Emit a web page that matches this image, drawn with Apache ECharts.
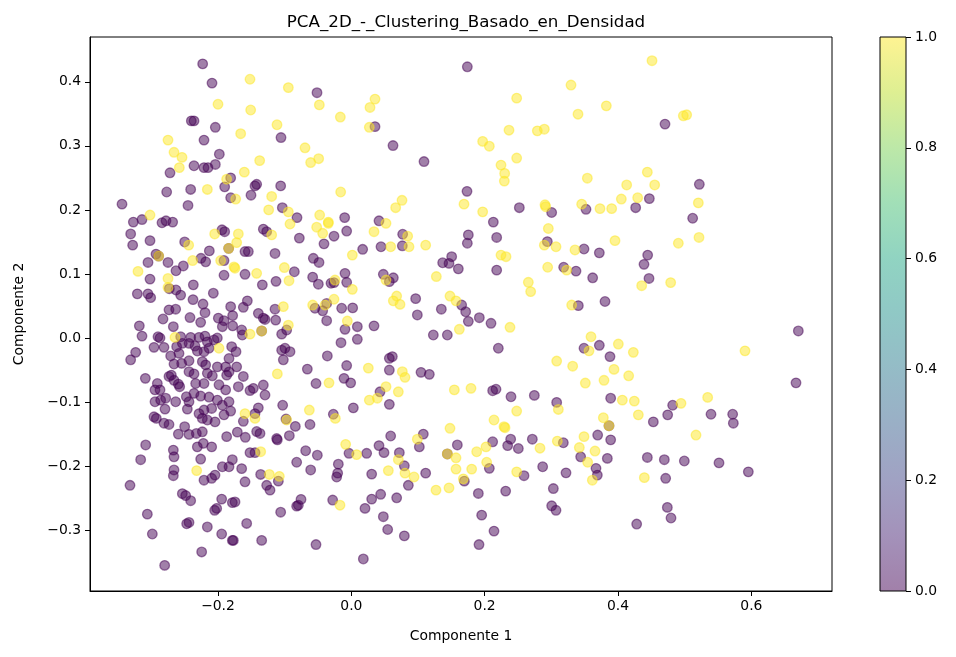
<!DOCTYPE html>
<html>
<head>
<meta charset="utf-8">
<title>PCA 2D - Clustering Basado en Densidad</title>
<script src="https://cdn.jsdelivr.net/npm/echarts@6.0.0/dist/echarts.min.js"></script>
<style>
    html, body { margin: 0; padding: 0; background: #fff; }
    #chart { width: 956px; height: 657px; }
</style>
</head>
<body>
<div id="chart"></div>
<script>
// puntos: [componente 1, componente 2]
var cluster0 = [
    [-0.223,0.428],[-0.209,0.398],[-0.240,0.339],[-0.236,0.339],[-0.204,0.329],[-0.221,0.309],[-0.198,0.287],[-0.236,0.269],
    [-0.221,0.266],[-0.215,0.266],[-0.204,0.271],[-0.272,0.258],[-0.181,0.25],[-0.19,0.236],[-0.241,0.232],[-0.277,0.228],
    [-0.181,0.219],[-0.344,0.209],[-0.245,0.207],[-0.327,0.181],[-0.314,0.185],[-0.284,0.18],[-0.278,0.183],[-0.268,0.181],
    [-0.331,0.1625],[-0.328,0.145],[-0.302,0.152],[-0.25,0.15],[-0.194,0.169],[-0.19,0.166],[-0.184,0.14],[-0.293,0.131],
    [-0.289,0.128],[-0.305,0.118],[-0.275,0.118],[-0.263,0.105],[-0.252,0.1125],[-0.2255,0.1245],[-0.2185,0.119],[-0.213,0.136],
    [-0.191,0.121],[-0.302,0.092],[-0.191,0.098],[-0.321,0.069],[-0.305,0.069],[-0.301,0.063],[-0.273,0.077],[-0.263,0.075],
    [-0.256,0.067],[-0.237,0.083],[-0.2375,0.060],[-0.2225,0.053],[-0.207,0.07],[-0.2735,0.044],[-0.2635,0.045],[-0.2195,0.0395],
    [-0.2825,0.0297],[-0.242,0.032],[-0.226,0.0245],[-0.1995,0.031],[-0.191,0.027],[-0.1935,0.0177],[-0.181,0.049],[-0.318,0.019],
    [-0.314,0.003],[-0.267,0.0177],[-0.29,0.002],[-0.287,0.0],[-0.256,0.002],[-0.241,0.001],[-0.2285,0.001],[-0.2195,0.003],
    [-0.206,-0.003],[-0.201,0.0],[-0.216,-0.006],[-0.296,-0.0146],[-0.281,-0.0146],[-0.262,-0.0136],[-0.2535,-0.0083],[-0.2435,-0.0083],
    [-0.2345,-0.0125],[-0.231,-0.0203],[-0.221,-0.0214],[-0.2135,-0.016],[-0.3235,-0.0224],[-0.331,-0.034],[-0.271,-0.028],[-0.2585,-0.024],
    [-0.266,-0.0406],[-0.2545,-0.0396],[-0.2435,-0.0355],[-0.2185,-0.042],[-0.2235,-0.037],[-0.201,-0.045],[-0.1885,-0.045],[-0.1835,-0.032],
    [-0.309,-0.063],[-0.291,-0.071],[-0.2945,-0.081],[-0.287,-0.081],[-0.2735,-0.06],[-0.27,-0.058],[-0.266,-0.066],[-0.2595,-0.072],
    [-0.2575,-0.076],[-0.2435,-0.0526],[-0.236,-0.056],[-0.2335,-0.071],[-0.221,-0.071],[-0.216,-0.055],[-0.2085,-0.059],[-0.1985,-0.073],
    [-0.1885,-0.081],[-0.187,-0.058],[-0.1835,-0.053],[-0.2945,-0.0995],[-0.286,-0.097],[-0.2785,-0.094],[-0.2635,-0.0995],[-0.2475,-0.0917],
    [-0.2435,-0.0995],[-0.236,-0.0865],[-0.226,-0.0906],[-0.2135,-0.0922],[-0.201,-0.097],[-0.1935,-0.105],[-0.1835,-0.0995],
    [-0.2795,-0.111],[-0.246,-0.111],[-0.221,-0.1125],[-0.2095,-0.11],[-0.181,-0.114],[-0.296,-0.123],[-0.2925,-0.1255],[-0.281,-0.133],
    [-0.2735,-0.135],[-0.25,-0.1385],[-0.2595,-0.15],[-0.2435,-0.1505],[-0.2325,-0.149],[-0.2235,-0.1464],[-0.2235,-0.1255],[-0.216,-0.128],
    [-0.2045,-0.131],[-0.191,-0.12],[-0.2285,-0.118],[-0.187,-0.154],[-0.3085,-0.167],[-0.267,-0.175],[-0.266,-0.1855],[-0.231,-0.17],
    [-0.222,-0.1645],[-0.2095,-0.17],[-0.226,-0.189],[-0.316,-0.19],[-0.266,-0.206],[-0.267,-0.215],[-0.221,-0.222],[-0.2095,-0.219],
    [-0.2045,-0.214],[-0.1935,-0.201],[-0.1835,-0.201],[-0.1785,-0.19],[-0.332,-0.23],[-0.2535,-0.243],[-0.2485,-0.246],[-0.241,-0.254],
    [-0.1945,-0.2515],[-0.202,-0.266],[-0.205,-0.269],[-0.1785,-0.257],[-0.306,-0.275],[-0.247,-0.29],[-0.2435,-0.288],[-0.216,-0.295],
    [-0.2985,-0.306],[-0.1945,-0.306],[-0.1785,-0.316],[-0.2245,-0.334],[-0.28,-0.355],
    [-0.0515,0.383],[-0.1055,0.313],[-0.1445,0.2375],[-0.142,0.24],[-0.106,0.2375],[-0.1505,0.223],[-0.1035,0.2035],[-0.0815,0.188],
    [-0.01,0.188],[0.0355,0.330],
    [-0.1595,0.135],[-0.1545,0.135],[-0.1595,0.0995],[-0.1335,0.083],[-0.132,0.17],[-0.127,0.166],[-0.078,0.156],[-0.1145,0.132],
    [-0.0855,0.1035],[-0.113,0.0885],[-0.026,0.159],[-0.007,0.167],[-0.041,0.147],[0.017,0.1385],[-0.057,0.1245],[-0.0485,0.118],
    [-0.058,0.095],[-0.0495,0.084],[-0.0305,0.0855],[-0.026,0.0865],[-0.0095,0.101],[-0.007,0.087],[-0.162,0.048],[-0.156,0.058],
    [-0.178,0.035],[-0.178,0.019],[-0.1645,0.0125],[-0.1635,0.0047],[-0.1395,0.0385],[-0.132,0.031],[-0.1295,0.029],[-0.1145,0.045],
    [-0.1135,0.028],[-0.1345,0.011],[-0.097,0.0125],[-0.1045,0.006],[-0.0545,0.0465],[-0.043,0.0425],[-0.037,0.054],[-0.037,0.027],
    [-0.0145,0.0465],[0.002,0.047],[-0.0095,0.0135],[0.009,0.0177],[0.034,0.019],[-0.0155,-0.0073],[0.009,-0.002],[-0.1045,-0.019],
    [-0.0995,-0.016],[-0.092,-0.0214],[-0.102,-0.034],[-0.173,-0.0214],[-0.1795,-0.0136],[-0.036,-0.028],[-0.066,-0.0485],[-0.007,-0.043],
    [-0.172,-0.045],[-0.162,-0.06],[-0.1695,-0.076],[-0.152,-0.082],[-0.147,-0.0786],[-0.132,-0.0734],[-0.1295,-0.089],[-0.053,-0.071],
    [-0.011,-0.063],[-0.001,-0.07],
    [-0.1445,-0.118],[-0.162,-0.13],[-0.1395,-0.109],[-0.103,-0.105],[-0.027,-0.119],[0.003,-0.109],[-0.098,-0.1265],[-0.084,-0.138],
    [-0.062,-0.135],[-0.171,-0.147],[-0.159,-0.155],[-0.142,-0.146],[-0.137,-0.149],[-0.112,-0.157],[-0.111,-0.159],[-0.093,-0.1525],
    [-0.152,-0.179],[-0.1445,-0.179],[-0.1645,-0.204],[-0.0685,-0.176],[-0.051,-0.183],[-0.082,-0.194],[-0.061,-0.206],[-0.0035,-0.18],
    [0.023,-0.18],[-0.0195,-0.197],[-0.0205,-0.211],[-0.022,-0.217],[0.0305,-0.2125],[-0.136,-0.213],[-0.1095,-0.2235],[-0.127,-0.23],
    [-0.122,-0.2375],[-0.1595,-0.2245],[-0.1745,-0.256],[-0.082,-0.2625],[-0.0795,-0.261],[-0.0755,-0.252],[-0.106,-0.272],[-0.028,-0.253],
    [0.0205,-0.266],[0.0305,-0.2515],[-0.157,-0.2895],[-0.177,-0.316],[-0.1345,-0.316],[-0.053,-0.3225],[0.018,-0.345],
    [0.174,0.4235],[0.0625,0.3005],[0.109,0.2755],[0.1735,0.229],[0.213,0.181],[0.252,0.2035],[0.0415,0.183],
    [0.0445,0.1425],[0.077,0.162],[0.0765,0.144],[0.1755,0.161],[0.174,0.148],[0.218,0.157],[0.137,0.1175],[0.1465,0.1165],
    [0.1505,0.127],[0.1605,0.108],[0.218,0.106],[0.048,0.0995],[0.063,0.094],[0.057,0.088],[0.0965,0.0615],[0.099,0.036],
    [0.135,0.045],[0.1655,0.0515],[0.1715,0.041],[0.1755,0.026],[0.192,0.0317],[0.2095,0.023],[0.123,0.0047],[0.144,0.0047],
    [0.2205,-0.016],[0.057,-0.0317],[0.0615,-0.029],[0.057,-0.05],[0.1045,-0.0536],[0.117,-0.0567],[0.043,-0.084],[0.057,-0.1036],
    [0.212,-0.0823],[0.217,-0.08],[0.2395,-0.0917],
    [0.059,-0.153],[0.0415,-0.168],[0.049,-0.179],[0.072,-0.179],[0.108,-0.15],[0.102,-0.17],[0.0795,-0.1995],[0.0855,-0.23],
    [0.1115,-0.211],[0.044,-0.244],[0.068,-0.2495],[0.048,-0.279],[0.0545,-0.299],[0.0795,-0.309],[0.159,-0.167],[0.144,-0.181],
    [0.1695,-0.2235],[0.207,-0.2035],[0.1905,-0.2427],[0.1955,-0.2766],[0.1915,-0.3225],[0.214,-0.3015],[0.2315,-0.239],[0.212,-0.162],
    [0.2345,-0.168],[0.239,-0.158],[0.2505,-0.1725],
    [0.4705,0.334],[0.447,0.2177],[0.522,0.24],[0.512,0.187],[0.3005,0.196],[0.352,0.201],[0.4265,0.2035],
    [0.294,0.1505],[0.349,0.139],[0.372,0.133],[0.4445,0.1295],[0.439,0.115],[0.4465,0.093],[0.3185,0.1105],[0.337,0.1045],
    [0.362,0.094],[0.3405,0.0505],[0.3805,0.057],[0.6705,0.011],[0.349,-0.016],[0.372,-0.0114],[0.388,-0.029],[0.667,-0.07],
    [0.2745,-0.0896],[0.308,-0.1005],[0.389,-0.094],[0.482,-0.105],
    [0.453,-0.131],[0.4745,-0.12],[0.5395,-0.119],[0.572,-0.119],[0.573,-0.133],[0.3865,-0.137],[0.3695,-0.1515],[0.389,-0.159],
    [0.318,-0.1635],[0.2715,-0.158],[0.344,-0.1855],[0.384,-0.188],[0.287,-0.201],[0.322,-0.2105],[0.367,-0.2035],[0.369,-0.214],
    [0.259,-0.215],[0.444,-0.1865],[0.4695,-0.19],[0.4995,-0.192],[0.5515,-0.195],[0.5955,-0.209],[0.4715,-0.219],[0.303,-0.235],
    [0.3005,-0.262],[0.307,-0.269],[0.474,-0.2645],[0.4795,-0.281],[0.428,-0.2905]
];

var cluster1 = [
    [-0.2,0.365],[-0.275,0.309],[-0.266,0.29],[-0.254,0.282],[-0.258,0.266],[-0.187,0.248],[-0.216,0.232],[-0.302,0.192],
    [-0.244,0.145],[-0.205,0.1625],[-0.184,0.14],[-0.289,0.128],[-0.238,0.121],[-0.196,0.121],[-0.176,0.111],[-0.32,0.104],
    [-0.275,0.093],[-0.275,0.079],[-0.2645,0.001],[-0.1985,-0.016],[-0.232,-0.207],
    [-0.152,0.404],[-0.0945,0.391],[-0.151,0.356],[-0.048,0.364],[-0.0165,0.345],[0.0355,0.373],[0.028,0.36],[0.027,0.329],
    [-0.1115,0.333],[-0.166,0.319],[-0.0695,0.297],[-0.061,0.274],[-0.049,0.280],[-0.1375,0.277],[-0.1605,0.259],[-0.1735,0.217],
    [-0.1195,0.221],[-0.016,0.228],[-0.124,0.2],[-0.0945,0.197],[-0.0475,0.192],[-0.0345,0.181],
    [-0.1695,0.1625],[-0.172,0.149],[-0.1745,0.109],[-0.142,0.101],[-0.1195,0.161],[-0.092,0.178],[-0.1005,0.11],[-0.0935,0.0895],
    [-0.052,0.173],[-0.043,0.1635],[-0.0345,0.179],[0.034,0.166],[0.0015,0.1295],[-0.0245,0.0905],[0.0015,0.076],[-0.026,0.0605],
    [-0.152,0.006],[-0.102,0.049],[-0.1345,0.011],[-0.0945,0.02],[-0.058,0.0515],[-0.0395,0.0515],[-0.006,0.0265],[0.0255,-0.047],
    [-0.111,-0.056],[-0.0335,-0.07],[0.027,-0.097],
    [-0.1595,-0.118],[-0.1445,-0.1255],[-0.063,-0.1125],[-0.024,-0.1255],[-0.097,-0.128],[-0.136,-0.1775],[-0.0085,-0.166],[0.008,-0.182],
    [-0.123,-0.213],[-0.108,-0.216],[-0.017,-0.261],
    [0.248,0.3745],[0.2365,0.3245],[0.197,0.307],[0.207,0.2995],[0.248,0.281],[0.2245,0.27],[0.23,0.257],[0.2295,0.245],
    [0.169,0.209],[0.197,0.197],[0.076,0.215],[0.0665,0.2035],[0.052,0.179],
    [0.059,0.1425],[0.0845,0.159],[0.0865,0.1425],[0.1115,0.145],[0.2245,0.1295],[0.232,0.127],[0.1275,0.096],[0.052,0.0905],
    [0.068,0.0655],[0.063,0.058],[0.073,0.0525],[0.148,0.0655],[0.157,0.058],[0.162,0.0136],[0.238,0.0167],[0.0765,-0.0526],
    [0.0805,-0.0614],[0.052,-0.076],[0.0705,-0.084],[0.039,-0.094],[0.1545,-0.081],[0.1795,-0.0786],
    [0.248,-0.114],[0.214,-0.128],[0.229,-0.1385],[0.2305,-0.14],[0.148,-0.141],[0.099,-0.158],[0.0705,-0.19],[0.0805,-0.211],
    [0.094,-0.217],[0.0555,-0.207],[0.127,-0.2375],[0.1465,-0.234],[0.144,-0.181],[0.157,-0.187],[0.157,-0.2047],[0.1805,-0.2047],
    [0.188,-0.1776],[0.202,-0.17],[0.203,-0.194],[0.168,-0.22],[0.248,-0.209],
    [0.451,0.433],[0.3295,0.395],[0.3825,0.3625],[0.34,0.3495],[0.498,0.347],[0.503,0.3485],[0.279,0.3235],[0.2895,0.326],
    [0.354,0.2495],[0.444,0.259],[0.413,0.239],[0.455,0.239],[0.405,0.217],[0.4295,0.219],[0.5205,0.211],[0.2905,0.208],
    [0.2915,0.205],[0.3455,0.209],[0.373,0.202],[0.3905,0.202],
    [0.2955,0.171],[0.2895,0.145],[0.307,0.1425],[0.3355,0.1375],[0.3955,0.152],[0.4905,0.148],[0.5215,0.157],[0.4355,0.0817],
    [0.479,0.0865],[0.2945,0.1105],[0.323,0.106],[0.2655,0.087],[0.269,0.0725],[0.3305,0.0515],[0.3595,0.002],[0.3565,-0.02],
    [0.4005,-0.0094],[0.423,-0.0224],[0.5905,-0.02],[0.308,-0.036],[0.332,-0.044],[0.394,-0.049],[0.416,-0.059],[0.379,-0.066],
    [0.351,-0.0703],[0.4065,-0.097],[0.4245,-0.0985],[0.5345,-0.0927],[0.4945,-0.102],
    [0.3105,-0.1115],[0.4305,-0.12],[0.517,-0.1515],[0.378,-0.1245],[0.3865,-0.137],[0.349,-0.154],[0.309,-0.161],[0.283,-0.172],
    [0.342,-0.171],[0.3655,-0.1765],[0.3545,-0.194],[0.3615,-0.222],[0.4395,-0.218]
];

var xTicks = [-0.2, 0.0, 0.2, 0.4, 0.6];
var yTicks = [-0.3, -0.2, -0.1, 0.0, 0.1, 0.2, 0.3, 0.4];
var cbarTicks = [0.0, 0.2, 0.4, 0.6, 0.8, 1.0];
// viridis
var cmapStops = ['#fde725', '#bddf26', '#7ad151', '#44bf70', '#22a884', '#21918c', '#2a788e', '#355f8d', '#414487', '#482475', '#440154'];

var chartDom = document.getElementById('chart');
var chart = echarts.init(chartDom, null, {renderer: 'canvas'});

var font = 'DejaVu Sans';

function fmt(v) {
    return (v < 0 ? '\u2212' : '') + Math.abs(v).toFixed(1);
}

var gradient = new echarts.graphic.LinearGradient(0, 0, 0, 1, cmapStops.map(function (c, i) {
    return {offset: i / (cmapStops.length - 1), color: c};
}));

var option = {
    animation: false,
    backgroundColor: '#fff',
    textStyle: {fontFamily: font, color: '#000'},
    title: {
        text: 'PCA_2D_-_Clustering_Basado_en_Densidad',
        left: 461,
        top: 9,
        textAlign: 'center',
        textStyle: {fontFamily: font, fontSize: 16.7, fontWeight: 'normal', color: '#000'}
    },
    grid: [
        {left: 90, top: 37, width: 742, height: 554, show: true, z: 10, backgroundColor: 'transparent', borderColor: '#000', borderWidth: 1},
        {left: 880, top: 37, width: 26, height: 554, show: true, z: 10, backgroundColor: 'transparent', borderColor: '#000', borderWidth: 1}
    ],
    xAxis: [
        {
            gridIndex: 0,
            type: 'value',
            min: -0.392,
            max: 0.721,
            name: 'Componente 1',
            nameLocation: 'middle',
            nameGap: 38,
            nameTextStyle: {fontFamily: font, fontSize: 13.9, color: '#000'},
            axisLine: {show: true, onZero: false, lineStyle: {color: '#000', width: 1}},
            axisTick: {show: true, inside: false, length: 5, customValues: xTicks, lineStyle: {color: '#000'}},
            axisLabel: {show: true, margin: 8, customValues: xTicks, formatter: fmt, fontFamily: font, fontSize: 13.9, color: '#000'},
            splitLine: {show: false}
        },
        {
            gridIndex: 1,
            type: 'category',
            data: ['cbar'],
            show: false
        }
    ],
    yAxis: [
        {
            gridIndex: 0,
            type: 'value',
            min: -0.395,
            max: 0.470,
            name: 'Componente 2',
            nameLocation: 'middle',
            nameGap: 64,
            nameTextStyle: {fontFamily: font, fontSize: 13.9, color: '#000'},
            axisLine: {show: true, onZero: false, lineStyle: {color: '#000', width: 1}},
            axisTick: {show: true, inside: false, length: 5, customValues: yTicks, lineStyle: {color: '#000'}},
            axisLabel: {show: true, margin: 9, customValues: yTicks, formatter: fmt, fontFamily: font, fontSize: 13.9, color: '#000'},
            splitLine: {show: false}
        },
        {
            gridIndex: 1,
            type: 'value',
            position: 'right',
            min: 0,
            max: 1,
            interval: 0.2,
            axisLine: {show: false},
            axisTick: {show: true, inside: false, length: 5, lineStyle: {color: '#000'}},
            axisLabel: {show: true, margin: 9, formatter: fmt, fontFamily: font, fontSize: 13.9, color: '#000'},
            splitLine: {show: false}
        }
    ],
    series: [
        {
            name: 'cluster 0',
            type: 'scatter',
            xAxisIndex: 0,
            yAxisIndex: 0,
            symbol: 'circle',
            symbolSize: 9.6,
            data: cluster0,
            itemStyle: {color: '#440154', borderColor: '#440154', borderWidth: 1.3, opacity: 0.5}
        },
        {
            name: 'cluster 1',
            type: 'scatter',
            xAxisIndex: 0,
            yAxisIndex: 0,
            symbol: 'circle',
            symbolSize: 9.6,
            data: cluster1,
            itemStyle: {color: '#fde725', borderColor: '#fde725', borderWidth: 1.3, opacity: 0.5}
        },
        {
            name: 'colorbar',
            type: 'bar',
            xAxisIndex: 1,
            yAxisIndex: 1,
            barWidth: '100%',
            data: [cbarTicks[cbarTicks.length - 1]],
            itemStyle: {color: gradient, opacity: 0.5},
            silent: true
        }
    ]
};

chart.setOption(option, true);
</script>
</body>
</html>
